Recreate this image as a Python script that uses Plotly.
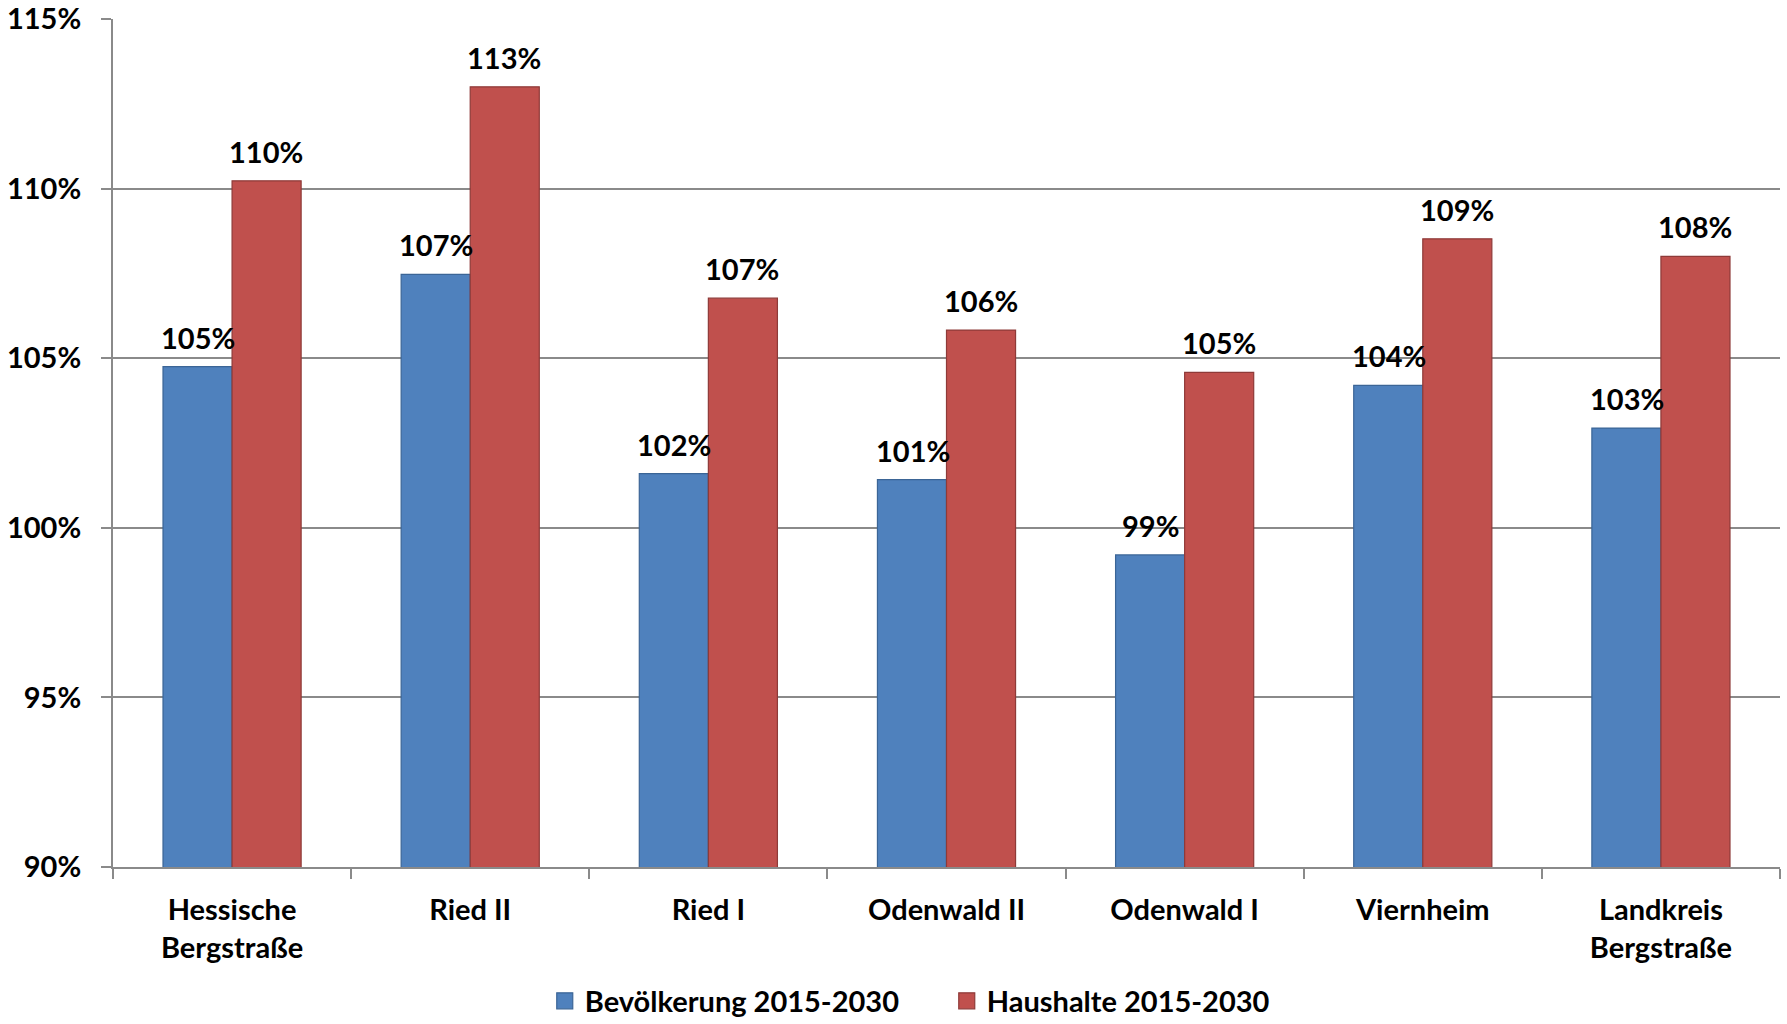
import plotly.graph_objects as go

categories = ["Hessische<br>Bergstraße", "Ried II", "Ried I", "Odenwald II", "Odenwald I", "Viernheim", "Landkreis<br>Bergstraße"]
bevoelkerung = [104.75, 107.47, 101.6, 101.42, 99.2, 104.2, 102.94]
haushalte = [110.23, 113.0, 106.77, 105.83, 104.58, 108.52, 108.0]
series_names = ["Bevölkerung 2015-2030", "Haushalte 2015-2030"]
y_ticks = [90, 95, 100, 105, 110, 115]
y_tick_labels = ["90%", "95%", "100%", "105%", "110%", "115%"]

FONT = "Lato, 'Open Sans', sans-serif"
FS = 29
BLUE, BLUE_LINE = "#4F81BD", "#3B6596"
RED, RED_LINE = "#C0504D", "#8E3A38"

fig = go.Figure()
fig.add_trace(go.Bar(
    x=categories, y=bevoelkerung, name=series_names[0], showlegend=False,
    marker=dict(color=BLUE, line=dict(color=BLUE_LINE, width=1.2)),
))
fig.add_trace(go.Bar(
    x=categories, y=haushalte, name=series_names[1], showlegend=False,
    marker=dict(color=RED, line=dict(color=RED_LINE, width=1.2)),
))
# legend entries with larger square keys
for name, col, lc in ((series_names[0], BLUE, BLUE_LINE), (series_names[1], RED, RED_LINE)):
    fig.add_trace(go.Scatter(
        x=[None], y=[None], mode="markers", name=name,
        marker=dict(symbol="square", size=19, color=col, line=dict(color=lc, width=1.2)),
    ))

annotations = []
for vals, shift in ((bevoelkerung, -34), (haushalte, 34)):
    for c, v in zip(categories, vals):
        annotations.append(dict(
            x=c, y=v, xref="x", yref="y", text=f"{v:.0f}%", showarrow=False,
            xshift=shift, yshift=10, yanchor="bottom", xanchor="center",
            font=dict(family=FONT, size=FS, color="black", weight="bold"),
        ))

fig.update_layout(
    width=1787, height=1024,
    margin=dict(l=113, r=7, t=19, b=157, autoexpand=False),
    paper_bgcolor="white", plot_bgcolor="white",
    barmode="group", bargap=0.42, bargroupgap=0,
    font=dict(family=FONT, size=FS, color="black", weight="bold"),
    showlegend=True,
    legend=dict(orientation="h", x=0.259, xanchor="left", y=-0.158, yanchor="middle",
                font=dict(family=FONT, size=FS, color="black", weight="bold"),
                entrywidth=357, entrywidthmode="pixels", itemwidth=30,
                traceorder="normal"),
    annotations=annotations,
)
fig.update_xaxes(
    showline=True, linecolor="#8a8a8a", linewidth=2, automargin=False,
    ticks="outside", tickson="boundaries", ticklen=10, tickcolor="#8a8a8a", tickwidth=2,
    ticklabelstandoff=16,
    tickfont=dict(family=FONT, size=FS, color="black", weight="bold"),
)
fig.update_yaxes(
    range=[90, 115], tickvals=y_ticks, ticktext=y_tick_labels, automargin=False,
    showgrid=True, gridcolor="#8a8a8a", gridwidth=2,
    showline=True, linecolor="#8a8a8a", linewidth=2,
    ticks="outside", ticklen=10, tickcolor="#8a8a8a", tickwidth=2,
    ticklabelstandoff=14, zeroline=False,
    tickfont=dict(family=FONT, size=FS, color="black", weight="bold"),
)

fig.write_html("out.html")
